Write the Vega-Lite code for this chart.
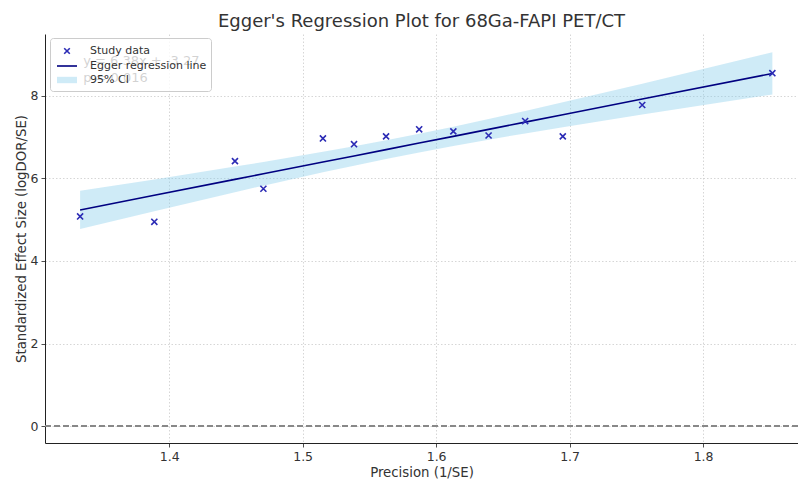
{
  "$schema": "https://vega.github.io/schema/vega-lite/v6.json",
  "autosize": "none",
  "width": 753,
  "height": 409,
  "padding": {"left": 45, "top": 34, "right": 0, "bottom": 38},
  "title": {"text": "Egger's Regression Plot for 68Ga-FAPI PET/CT", "fontSize": 18, "font": "DejaVu Sans", "fontWeight": "normal", "color": "#333333", "offset": 3},
  "data": {"values": [
    {"x": 1.3333, "y": 5.08, "fit": 5.237, "lo": 4.774, "hi": 5.700},
    {"x": 1.3889, "y": 4.95, "fit": 5.591, "lo": 5.206, "hi": 5.976},
    {"x": 1.4493, "y": 6.42, "fit": 5.977, "lo": 5.667, "hi": 6.287},
    {"x": 1.4706, "y": 5.75, "fit": 6.112, "lo": 5.825, "hi": 6.399},
    {"x": 1.5152, "y": 6.97, "fit": 6.397, "lo": 6.148, "hi": 6.646},
    {"x": 1.5385, "y": 6.83, "fit": 6.546, "lo": 6.310, "hi": 6.782},
    {"x": 1.5625, "y": 7.02, "fit": 6.699, "lo": 6.471, "hi": 6.927},
    {"x": 1.5873, "y": 7.19, "fit": 6.857, "lo": 6.629, "hi": 7.085},
    {"x": 1.6129, "y": 7.14, "fit": 7.020, "lo": 6.785, "hi": 7.255},
    {"x": 1.6393, "y": 7.04, "fit": 7.189, "lo": 6.939, "hi": 7.439},
    {"x": 1.6667, "y": 7.39, "fit": 7.364, "lo": 7.092, "hi": 7.636},
    {"x": 1.6949, "y": 7.02, "fit": 7.544, "lo": 7.243, "hi": 7.845},
    {"x": 1.7544, "y": 7.78, "fit": 7.923, "lo": 7.550, "hi": 8.296},
    {"x": 1.8519, "y": 8.55, "fit": 8.545, "lo": 8.034, "hi": 9.056}
  ]},
  "layer": [
    {
      "mark": {"type": "area", "fill": "#87ceeb", "opacity": 0.4},
      "encoding": {
        "x": {"field": "x", "type": "quantitative", "title": "Precision (1/SE)",
              "scale": {"domain": [1.307, 1.8711], "nice": false, "zero": false},
              "axis": {"values": [1.4, 1.5, 1.6, 1.7, 1.8], "format": ".1f"}},
        "y": {"field": "lo", "type": "quantitative", "title": "Standardized Effect Size (logDOR/SE)",
              "scale": {"domain": [-0.41, 9.5], "nice": false, "zero": false},
              "axis": {"values": [0, 2, 4, 6, 8]}},
        "y2": {"field": "hi"}
      }
    },
    {
      "mark": {"type": "line", "color": "#000080", "strokeWidth": 1.6},
      "encoding": {
        "x": {"field": "x", "type": "quantitative", "title": "Precision (1/SE)"},
        "y": {"field": "fit", "type": "quantitative", "title": "Standardized Effect Size (logDOR/SE)"}
      }
    },
    {
      "mark": {"type": "rule", "color": "#888888", "strokeWidth": 1.5, "strokeDash": [6, 3]},
      "encoding": {"y": {"datum": 0}}
    },
    {
      "data": {"values": [{"label": "y = 6.38x + -3.27\np = 0.016"}]},
      "mark": {"type": "text", "align": "left", "baseline": "top", "font": "DejaVu Sans", "fontSize": 13, "lineHeight": 17, "lineBreak": "\n", "color": "#222222"},
      "encoding": {
        "x": {"datum": 1.3356, "type": "quantitative"},
        "y": {"datum": 9.0, "type": "quantitative"},
        "text": {"field": "label"}
      }
    },
    {
      "mark": {"type": "point", "strokeWidth": 1.6, "size": 300, "opacity": 1},
      "encoding": {
        "x": {"field": "x", "type": "quantitative", "title": "Precision (1/SE)"},
        "y": {"field": "y", "type": "quantitative", "title": "Standardized Effect Size (logDOR/SE)"},
        "shape": {"datum": "Study data", "type": "nominal",
          "scale": {"domain": ["Study data", "Egger regression line", "95% CI"],
                    "range": ["M-0.35,-0.35L0.35,0.35M-0.35,0.35L0.35,-0.35", "M-1.25,0H1.25", "M-1.25,-0.4H1.25V0.4H-1.25Z"]},
          "legend": {
            "title": null, "orient": "none", "legendX": 5, "legendY": 4,
            "fillColor": "rgba(255,255,255,0.8)", "strokeColor": "#cccccc", "cornerRadius": 3,
            "padding": 4, "symbolOffset": 4, "symbolSize": 256, "rowPadding": 0, "labelOffset": 14,
            "symbolStrokeWidth": 1.6, "symbolOpacity": 1,
            "labelFont": "DejaVu Sans", "labelFontSize": 11, "labelColor": "#333333"
          }
        },
        "stroke": {"datum": "Study data", "type": "nominal",
          "scale": {"domain": ["Study data", "Egger regression line", "95% CI"],
                    "range": ["#2b2bb5", "#000080", "transparent"]},
          "legend": {
            "title": null, "orient": "none", "legendX": 5, "legendY": 4,
            "fillColor": "rgba(255,255,255,0.8)", "strokeColor": "#cccccc", "cornerRadius": 3,
            "padding": 4, "symbolOffset": 4, "symbolSize": 256, "rowPadding": 0, "labelOffset": 14,
            "symbolStrokeWidth": 1.6, "symbolOpacity": 1,
            "labelFont": "DejaVu Sans", "labelFontSize": 11, "labelColor": "#333333"
          }
        },
        "fill": {"datum": "Study data", "type": "nominal",
          "scale": {"domain": ["Study data", "Egger regression line", "95% CI"],
                    "range": ["transparent", "transparent", "#cfebf7"]},
          "legend": {
            "title": null, "orient": "none", "legendX": 5, "legendY": 4,
            "fillColor": "rgba(255,255,255,0.8)", "strokeColor": "#cccccc", "cornerRadius": 3,
            "padding": 4, "symbolOffset": 4, "symbolSize": 256, "rowPadding": 0, "labelOffset": 14,
            "symbolStrokeWidth": 1.6, "symbolOpacity": 1,
            "labelFont": "DejaVu Sans", "labelFontSize": 11, "labelColor": "#333333"
          }
        }
      }
    }
  ],
  "config": {
    "view": {"stroke": null},
    "axis": {
      "domainColor": "#222222", "domainWidth": 1, "tickColor": "#222222", "tickSize": 4, "tickWidth": 0.8,
      "grid": true, "gridColor": "#cccccc", "gridDash": [1.5, 2], "gridWidth": 0.8,
      "labelFont": "DejaVu Sans", "labelFontSize": 12.5, "labelColor": "#333333", "labelPadding": 3,
      "titleFont": "DejaVu Sans", "titleFontSize": 13.3, "titleFontWeight": "normal", "titleColor": "#333333"
    },
    "axisX": {"titlePadding": 3, "labelFlush": false},
    "axisY": {"titlePadding": 2}
  }
}
